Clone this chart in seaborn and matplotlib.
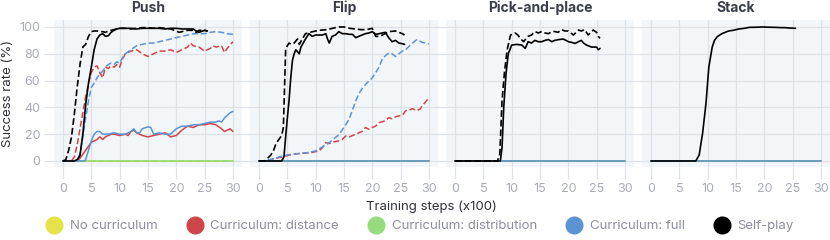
import numpy as np
import pandas as pd
import matplotlib
matplotlib.use("Agg")
import matplotlib.pyplot as plt
from matplotlib.lines import Line2D
import seaborn as sns

# ---------------- data ----------------
panels = ["Push", "Flip", "Pick-and-place", "Stack"]
methods = ["No curriculum", "Curriculum: distance", "Curriculum: distribution",
           "Curriculum: full", "Self-play"]
colors = ["#e6e24a", "#cf4449", "#96dc7d", "#5b93d3", "#000000"]
x_ticks = [0, 5, 10, 15, 20, 25, 30]
y_ticks = [0, 20, 40, 60, 80, 100]

zero_x = [0, 30]
zero_y = [0, 0]

# Push
push_self_dash_x = [0, 0.5, 1, 1.5, 2, 2.5, 3, 3.5, 4, 4.5, 5, 5.5, 6, 6.5, 7, 7.5, 8, 9, 10, 11, 12, 13, 14, 15, 16, 17, 18, 19, 20, 20.5, 21, 22, 23, 23.5, 24, 25, 25.5]
push_self_dash_y = [0, 1, 8, 18, 35, 55, 72, 85, 87, 93, 96.5, 97, 97, 96.5, 96.5, 96, 97, 98, 99, 99, 98.5, 99, 99.5, 99.5, 99, 99.5, 99, 98.5, 97, 96, 96.5, 97.5, 97.5, 96, 97.5, 97.5, 97]
push_self_solid_x = [0, 2, 2.5, 3, 3.5, 4, 4.5, 5, 5.5, 6, 6.5, 7, 7.5, 8, 8.5, 9, 9.5, 10, 11, 12, 13, 14, 15, 16, 17, 18, 19, 20, 21, 22, 23, 23.5, 24, 25, 25.5]
push_self_solid_y = [0, 0, 1, 4, 20, 42, 58, 70, 83, 91, 94, 95, 93, 93.5, 96, 97.5, 98.5, 99, 99, 99, 98.5, 99, 99, 99, 99, 98.5, 99, 99, 98.5, 98.5, 98.5, 97, 96, 97.5, 97]
push_dist_dash_x = [0, 1.5, 2, 2.5, 3, 3.5, 4, 4.5, 5, 5.5, 6, 6.5, 7, 7.5, 8, 8.5, 9, 9.5, 10, 10.5, 11, 12, 13, 14, 15, 16, 17, 18, 19, 20, 21, 22, 22.5, 23, 24, 25, 26, 26.5, 27, 28, 28.5, 29, 30]
push_dist_dash_y = [0, 0, 3, 12, 24, 36, 48, 58, 66, 70, 71, 66, 62, 70, 69, 71, 70, 72, 70, 76, 80, 82, 83, 80, 78, 80, 82, 82, 83, 81, 83, 85, 88, 86, 85, 82, 84, 86, 85, 86, 81, 84, 89]
push_full_dash_x = [0, 2.5, 3, 3.5, 4, 4.5, 5, 5.5, 6, 6.5, 7, 7.5, 8, 8.5, 9, 9.5, 10, 10.5, 11, 12, 13, 14, 15, 16, 17, 18, 19, 20, 21, 22, 23, 24, 25, 26, 27, 28, 29, 30]
push_full_dash_y = [0, 0, 6, 18, 32, 45, 55, 58, 62, 65, 67, 70, 72, 73, 72, 74, 73, 77, 80, 83, 86, 87, 88, 88, 89, 90, 91, 92, 93, 94, 95, 95, 95, 96, 96.5, 96, 95, 94.5]
push_dist_solid_x = [0, 2.5, 3, 3.5, 4, 4.5, 5, 5.5, 6, 6.5, 7, 7.5, 8, 8.5, 9, 10, 11, 11.5, 12, 12.5, 13, 13.5, 14, 15, 16, 17, 18, 19, 20, 21, 22, 23, 24, 25, 26, 27, 28, 28.5, 29, 29.5, 30]
push_dist_solid_y = [0, 0, 2, 5, 8, 11, 14, 15, 16, 18, 16, 18, 19, 20, 20, 19, 20, 19, 22, 23, 21, 20, 19, 18, 19, 20, 21, 18, 19, 23, 26, 25, 27, 27, 28, 27, 24, 22, 23, 24, 22]
push_full_solid_x = [0, 3.8, 4, 4.5, 5, 5.5, 6, 6.5, 7, 8, 9, 10, 11, 12, 12.5, 13, 13.5, 14, 15, 15.5, 16, 17, 18, 19, 20, 21, 22, 23, 24, 25, 26, 27, 27.5, 28, 28.5, 29, 29.5, 30]
push_full_solid_y = [0, 0, 1, 8, 15, 20, 22, 22, 20, 20, 21, 20, 20, 22, 24, 21, 21, 24, 25.5, 25, 20, 21, 20, 20, 24, 26, 26, 27, 27, 28, 29, 29, 30, 29, 32, 34, 36, 37]

# Flip
flip_self_dash_x = [0, 1, 1.5, 2, 2.5, 3, 3.5, 4, 4.3, 4.7, 5, 5.3, 5.8, 6.2, 6.8, 7.1, 7.5, 8.2, 9, 10, 10.6, 12, 13, 14, 15, 16, 17, 18, 19, 20, 20.6, 21.2, 21.8, 22.9, 24.1, 24.7, 25.3, 25.7]
flip_self_dash_y = [0, 0, 2, 4, 7, 13, 16, 19, 25, 83, 86, 88, 87, 88, 91, 87, 90, 95, 96, 97, 97.5, 98, 99, 100, 100, 99, 98.5, 98, 98, 99, 93, 93, 94, 96.5, 97, 96, 95, 94]
flip_self_solid_x = [0, 4, 4.4, 4.7, 5, 5.3, 5.6, 5.9, 6.2, 6.5, 7.1, 7.4, 7.8, 8.2, 8.8, 9.4, 10, 10.6, 11.2, 11.8, 12.1, 12.4, 12.9, 13.5, 14.1, 14.7, 15.3, 16, 16.5, 17.1, 17.6, 18.2, 18.8, 19.4, 20, 20.6, 21.2, 22.3, 22.9, 23.5, 24.1, 24.7, 25.3, 25.7]
flip_self_solid_y = [0, 0, 3, 18, 32, 45, 62, 75, 80, 83, 80, 85, 88, 91, 95, 93, 94, 94, 94, 95, 91, 88, 93, 94, 96.5, 95, 95, 94.5, 94.5, 92, 93, 94, 95, 95.5, 96.5, 94.5, 95, 96, 92, 89, 90, 88, 87.5, 87]
flip_full_dash_x = [0, 1, 2, 3, 3.5, 4, 5, 6, 7, 8, 9, 10, 11, 11.8, 12.5, 13, 14.1, 15, 15.9, 16.5, 17.1, 17.6, 18.2, 19, 20, 20.6, 21.2, 21.8, 22.9, 23.5, 24.1, 24.7, 25.3, 25.9, 26.5, 27.1, 27.9, 28.8, 29.4, 30]
flip_full_dash_y = [0, 0, 1, 2, 3, 3.5, 4.5, 5, 5.5, 6, 6.5, 7.5, 10, 12, 14, 16, 19.5, 25, 31, 38, 45, 50, 54, 58, 62, 66, 70, 76.6, 80.6, 80, 78, 80, 82, 83, 85.6, 88, 90.6, 88.5, 88, 87.3]
flip_dist_dash_x = [0, 1, 2, 3, 4, 5, 6, 7, 8, 9, 10, 10.6, 11.2, 11.8, 12.4, 13, 13.5, 14.1, 14.7, 15.3, 16, 16.5, 17.1, 17.6, 18.2, 18.8, 19.4, 20, 20.6, 21.2, 22.3, 22.9, 23.5, 24.1, 24.7, 25.3, 25.9, 26.5, 27.1, 27.9, 28.5, 28.8, 29.4, 30]
flip_dist_dash_y = [0, 0, 1, 2, 3, 4, 5, 5.5, 6, 6, 7, 7.5, 10, 13.7, 13, 14, 14.5, 15, 16, 18.6, 18, 19, 19.9, 21, 22, 25, 23.6, 25, 26, 28.6, 30, 32.3, 31.5, 33, 33.6, 34, 37.5, 38, 39, 37.5, 39, 41, 44, 47]

# Pick-and-place
pick_self_dash_x = [0, 7.5, 7.9, 8.3, 8.7, 9.2, 9.8, 10.6, 11.1, 11.5, 12.1, 12.9, 13.5, 14.1, 14.7, 15.3, 15.9, 16.5, 17.1, 17.6, 18.2, 18.8, 19.4, 20, 20.9, 21.8, 22.3, 22.9, 23.5, 24.4, 25, 25.3, 25.6]
pick_self_dash_y = [0, 0, 5, 45, 65, 83, 94, 95.5, 94, 91.5, 89, 93, 94, 96.6, 95.5, 96.6, 95.5, 95, 96.5, 96.6, 96, 98, 97, 97, 94, 97.7, 97, 98, 94, 97.7, 96, 93, 91.5]
pick_self_solid_x = [0, 8, 8.3, 8.6, 9, 9.4, 10, 10.9, 11.8, 12.4, 12.9, 13.5, 14.1, 14.7, 15.3, 15.9, 16.5, 17.1, 17.6, 18.2, 19.1, 19.6, 20, 20.6, 21.2, 21.8, 22.3, 22.7, 23.2, 24.1, 25, 25.3, 25.6]
pick_self_solid_y = [0, 0, 10, 40, 65, 80, 86.5, 87, 86.5, 84, 89, 88, 90, 89, 89, 90, 90.6, 89, 90, 90.5, 91, 90, 89, 88.5, 87.7, 89, 90, 88, 86.5, 85, 85, 83, 84]

# Stack
stack_self_solid_x = [0, 7.9, 8.5, 9.1, 9.7, 10.2, 10.8, 11.2, 11.7, 12.5, 13.1, 13.7, 14.5, 15.5, 16.5, 17.3, 18.5, 19.6, 21, 22, 23, 23.7, 24.5, 25.5]
stack_self_solid_y = [0, 0, 4.5, 20.6, 43, 70, 85, 90, 92.8, 95, 96, 97, 97.5, 98.5, 99, 99.7, 99.8, 100, 99.8, 99.7, 99.5, 99.5, 99.2, 99]

# (panel, method, variant, x, y)
series = [
    ("Push", "No curriculum", "solid", zero_x, zero_y),
    ("Push", "No curriculum", "dashed", zero_x, zero_y),
    ("Push", "Curriculum: distance", "solid", push_dist_solid_x, push_dist_solid_y),
    ("Push", "Curriculum: distance", "dashed", push_dist_dash_x, push_dist_dash_y),
    ("Push", "Curriculum: distribution", "solid", zero_x, zero_y),
    ("Push", "Curriculum: distribution", "dashed", zero_x, zero_y),
    ("Push", "Curriculum: full", "solid", push_full_solid_x, push_full_solid_y),
    ("Push", "Curriculum: full", "dashed", push_full_dash_x, push_full_dash_y),
    ("Push", "Self-play", "solid", push_self_solid_x, push_self_solid_y),
    ("Push", "Self-play", "dashed", push_self_dash_x, push_self_dash_y),
    ("Flip", "No curriculum", "solid", zero_x, zero_y),
    ("Flip", "Curriculum: distance", "solid", zero_x, zero_y),
    ("Flip", "Curriculum: distance", "dashed", flip_dist_dash_x, flip_dist_dash_y),
    ("Flip", "Curriculum: distribution", "solid", zero_x, zero_y),
    ("Flip", "Curriculum: full", "solid", zero_x, zero_y),
    ("Flip", "Curriculum: full", "dashed", flip_full_dash_x, flip_full_dash_y),
    ("Flip", "Self-play", "solid", flip_self_solid_x, flip_self_solid_y),
    ("Flip", "Self-play", "dashed", flip_self_dash_x, flip_self_dash_y),
    ("Pick-and-place", "No curriculum", "solid", zero_x, zero_y),
    ("Pick-and-place", "Curriculum: distance", "solid", zero_x, zero_y),
    ("Pick-and-place", "Curriculum: distribution", "solid", zero_x, zero_y),
    ("Pick-and-place", "Curriculum: full", "solid", zero_x, zero_y),
    ("Pick-and-place", "Self-play", "solid", pick_self_solid_x, pick_self_solid_y),
    ("Pick-and-place", "Self-play", "dashed", pick_self_dash_x, pick_self_dash_y),
    ("Stack", "No curriculum", "solid", zero_x, zero_y),
    ("Stack", "Curriculum: distance", "solid", zero_x, zero_y),
    ("Stack", "Curriculum: distribution", "solid", zero_x, zero_y),
    ("Stack", "Curriculum: full", "solid", zero_x, zero_y),
    ("Stack", "Self-play", "solid", stack_self_solid_x, stack_self_solid_y),
]

rows = []
for p, m, v, xs, ys in series:
    for xv, yv in zip(xs, ys):
        rows.append({"panel": p, "method": m, "variant": v, "step": xv, "rate": yv})
df = pd.DataFrame(rows)

# ---------------- style ----------------
sns.set_theme(style="white")
plt.rcParams["font.family"] = ["Inter", "DejaVu Sans"]

bg = "#f3f6f8"
grid_c = "#dde1e8"
tick_c = "#a9abb8"
title_c = "#3b3d4c"

fig, axes = plt.subplots(1, 4, figsize=(8.3, 2.4), dpi=100, sharey=True)
fig.subplots_adjust(left=0.065, right=1.0, bottom=1 - 167 / 240, top=1 - 20 / 240,
                    wspace=8 / 188)

palette = dict(zip(methods, colors))
for ax, p in zip(axes, panels):
    sub = df[df.panel == p]
    sns.lineplot(data=sub, x="step", y="rate", hue="method", hue_order=methods,
                 style="variant", style_order=["solid", "dashed"],
                 dashes={"solid": "", "dashed": (4, 1.8)},
                 palette=palette, estimator=None, linewidth=1.1,
                 legend=False, ax=ax)
    for ln in ax.lines:
        if matplotlib.colors.to_hex(ln.get_color()) == "#000000":
            ln.set_linewidth(1.2)
    ax.set_facecolor(bg)
    ax.set_xlim(-1.6, 31.6)
    ax.set_ylim(-4.5, 105.2)
    ax.set_xticks(x_ticks)
    ax.set_yticks(y_ticks)
    ax.grid(True, color=grid_c, linewidth=0.9)
    ax.set_axisbelow(True)
    for s in ax.spines.values():
        s.set_visible(False)
    ax.tick_params(axis="both", which="both", direction="out", length=8.5,
                   width=0.9, color=grid_c, labelcolor=tick_c, labelsize=9, pad=3)
    ax.tick_params(axis="y", left=True, length=7)
    ax.tick_params(axis="x", bottom=True)
    ax.set_title(p, fontsize=10, fontweight="bold", color=title_c, pad=6)
    ax.set_xlabel("")
    ax.set_ylabel("")

axes[0].set_ylabel("Success rate (%)", fontsize=9.5, color="#2e2f38", labelpad=4)
fig.text(431.5 / 830, 1 - 206.5 / 240, "Training steps (x100)", ha="center",
         va="center", fontsize=9.5, color="#2e2f38")

handles = [Line2D([0], [0], marker="o", linestyle="none", markersize=12,
                  markerfacecolor=c, markeredgecolor=c) for c in colors]
leg = fig.legend(handles, methods, loc="center", bbox_to_anchor=(420 / 830, 1 - 226 / 240),
                 ncol=5, frameon=False, fontsize=9.5, handlelength=1.2,
                 handletextpad=0.6, columnspacing=2.2, borderaxespad=0)
for t in leg.get_texts():
    t.set_color("#8d8e9c")

fig.savefig("out.png", dpi=100)
